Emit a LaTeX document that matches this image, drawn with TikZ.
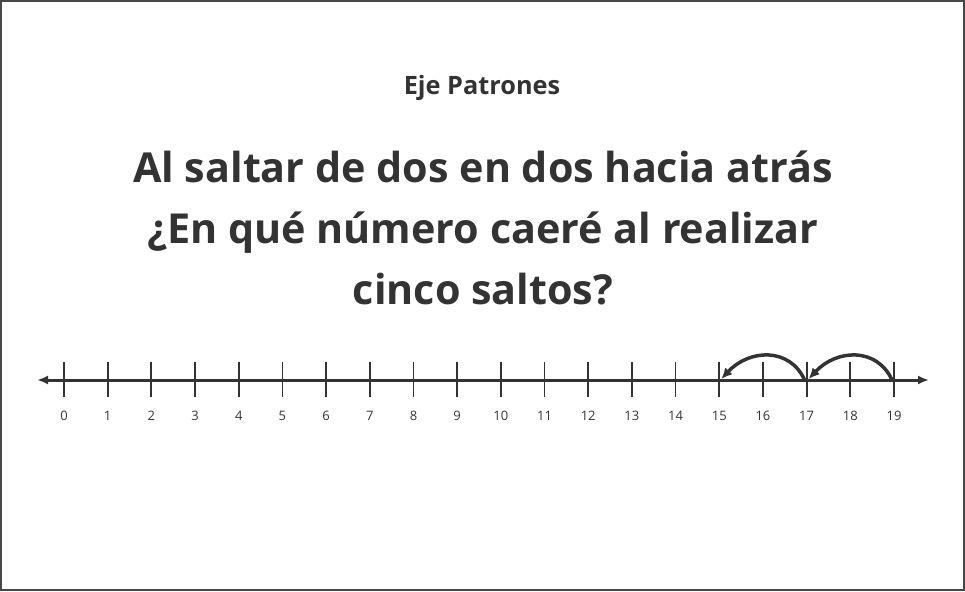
\documentclass[tikz,border=0pt]{standalone}
\usepackage{fontspec}
\setmainfont{Open Sans}
\usetikzlibrary{arrows.meta,calc}
\definecolor{inkgray}{HTML}{333333}

\begin{document}
\begin{tikzpicture}[x=1pt,y=-1pt,
    numlabel/.style={font=\fontsize{13}{13}\selectfont, text=inkgray},
    jump/.style={line width=3.5pt, draw=inkgray, -{Latex[length=11pt,width=10pt]}}]
    % Frame
    \draw[line width=2pt, draw=inkgray!90] (1,1) rectangle (964,590);
    \useasboundingbox (0,0) rectangle (965,591);
    % Titles
    \node[text=inkgray, font=\fontsize{25.3}{25}\selectfont\bfseries] (sub) at (482,88) {Eje Patrones};
    \node[text=inkgray, align=center, font=\fontsize{41.3}{61}\selectfont\bfseries] (question) at (483,228)
      {Al saltar de dos en dos hacia atrás\\¿En qué número caeré al realizar\\cinco saltos?};
    % Axis
    \coordinate (left) at (37,380);
    \coordinate (right) at (929,380);
    \draw[line width=3pt, draw=inkgray, {Latex[length=11pt,width=9pt]}-{Latex[length=11pt,width=9pt]}] (left) -- (right);
    % Ticks and numbers
    \foreach \i in {0,...,19} {
      \coordinate (t\i) at ({64+\i*43.684},380);
      \draw[line width=1.8pt, draw=inkgray] ($(t\i)+(0,-18)$) -- ($(t\i)+(0,17)$);
      \node[numlabel] (n\i) at ({64+\i*43.684},416) {\i};
    }
    % Jumps backwards
    \draw[jump] ($(t19)+(-2,0)$) .. controls +(-15,-33) and +(28,-30) .. ($(t17)+(2,-1)$);
    \draw[jump] ($(t17)+(-2,0)$) .. controls +(-15,-33) and +(28,-30) .. ($(t15)+(2,-1)$);
\end{tikzpicture}
\end{document}
